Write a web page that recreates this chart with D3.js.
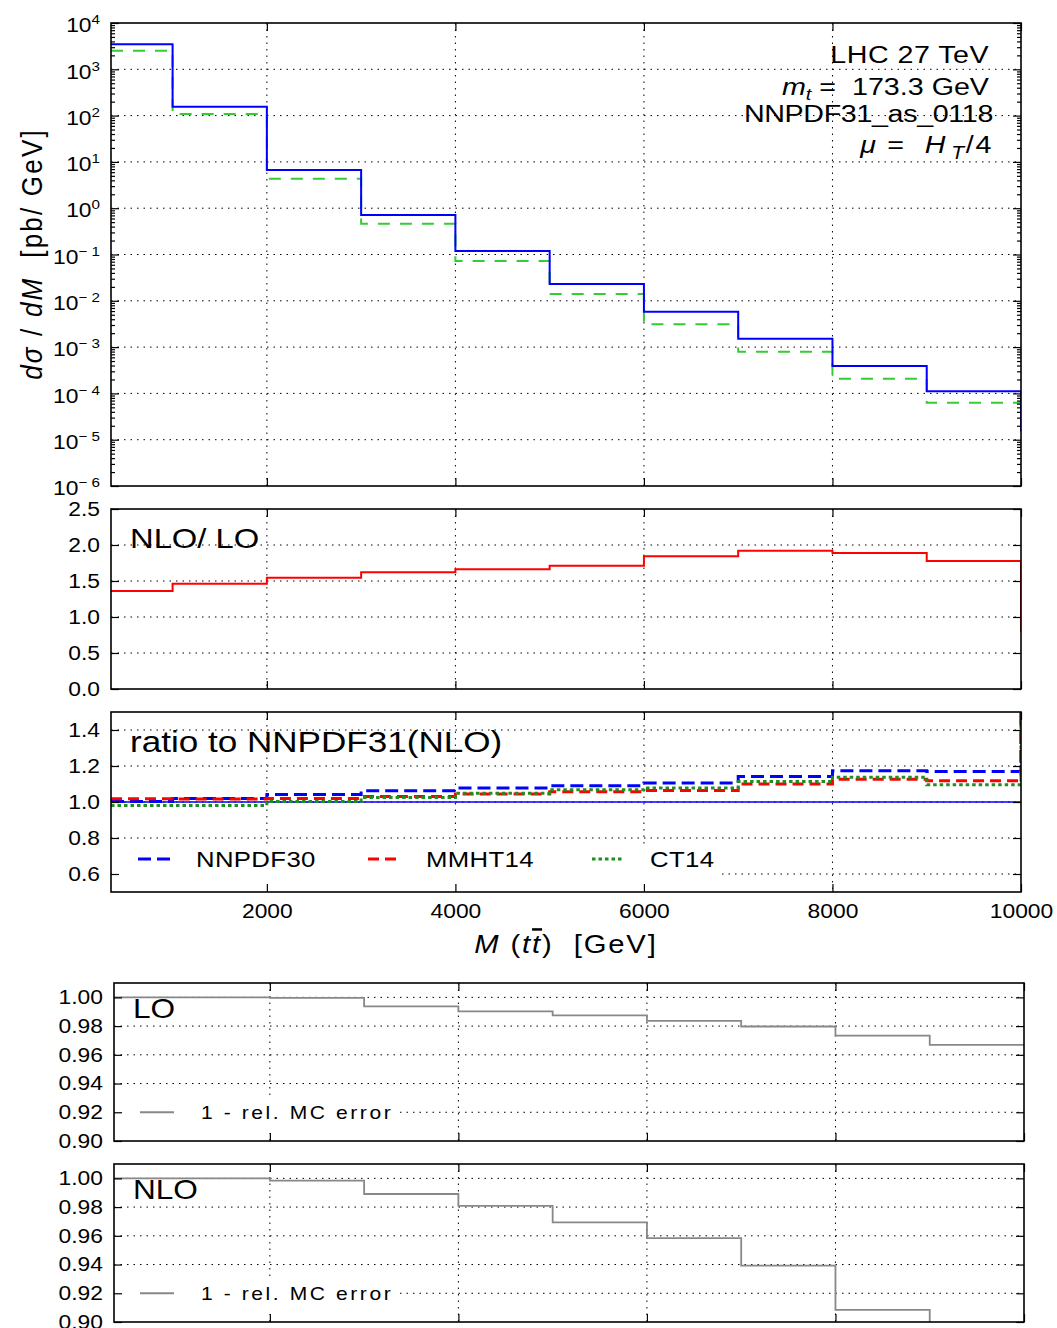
<!DOCTYPE html>
<html>
<head>
<meta charset="utf-8">
<script src="https://cdn.jsdelivr.net/npm/d3@7"></script>
<style>
html, body { margin: 0; padding: 0; background: #fff; }
svg text { font-family: "Liberation Sans", Arial, sans-serif; fill: #000; white-space: pre; }
</style>
</head>
<body>
<svg id="chart" width="1057" height="1328"></svg>
<script>
// bin edges, M(tt) [GeV]
const binEdges = [346.6, 1000, 2000, 3000, 4000, 5000, 6000, 7000, 8000, 9000, 10000];
// dsigma/dM [pb/GeV]
const xsecNLO = [3470, 155, 6.7, 0.71, 0.119, 0.0231, 0.00582, 0.00152, 0.000391, 0.000111];
const xsecLO = [2520, 108, 4.3, 0.46, 0.072, 0.0140, 0.00311, 0.000796, 0.000207, 0.000063];
const xsecNLOEnd = 1.5e-5;
// NLO / LO
const kFactor = [1.361, 1.463, 1.546, 1.62, 1.662, 1.713, 1.843, 1.921, 1.889, 1.778];
const kFactorEnd = 0.796;
// ratio to NNPDF31 (NLO)
const ratioNNPDF31 = [1, 1, 1, 1, 1, 1, 1, 1, 1, 1];
const ratioNNPDF30 = [1.003, 1.02, 1.042, 1.063, 1.078, 1.09, 1.105, 1.142, 1.173, 1.169];
const ratioMMHT14 = [1.018, 1.016, 1.02, 1.031, 1.044, 1.057, 1.064, 1.10, 1.127, 1.118];
const ratioCT14 = [0.981, 0.981, 1.003, 1.025, 1.048, 1.068, 1.078, 1.114, 1.138, 1.096];
const ratioEnd = 1.6;
// 1 - rel. MC error
const mcErrLO = [1.0, 1.0, 0.9996, 0.9937, 0.9902, 0.9874, 0.9837, 0.9797, 0.9734, 0.9669];
const mcErrNLO = [1.0, 1.0, 0.9984, 0.9891, 0.9809, 0.9693, 0.9584, 0.9393, 0.9085, 0.875];
// ticks
const xTicks = [2000, 4000, 6000, 8000, 10000];
const logTicks = [1e-6, 1e-5, 1e-4, 1e-3, 1e-2, 1e-1, 1, 10, 100, 1000, 10000];
const kTicks = [0.0, 0.5, 1.0, 1.5, 2.0, 2.5];
const ratioTicks = [0.6, 0.8, 1.0, 1.2, 1.4];
const mcTicks = [0.90, 0.92, 0.94, 0.96, 0.98, 1.00];

const svg = d3.select('#chart');
const SX = 1.17; // glyphs in the picture are a bit wide
const TICKFS = 19.5;
let clipN = 0;

function stretch(sel) {
    sel.each(function () {
        const t = d3.select(this);
        const x = +t.attr('x') || 0, y = +t.attr('y') || 0;
        t.attr('transform', `translate(${x},${y}) scale(${SX},1) translate(${-x},${-y})`);
    });
}

function stepPath(x, y, vals, end) {
    const pts = binEdges.map((e, i) => [e, i < vals.length ? vals[i] : (end !== undefined ? end : vals[vals.length - 1])]);
    return d3.line().x(d => x(d[0])).y(d => y(d[1])).curve(d3.curveStepAfter)(pts);
}

function panel(box, y, o) {
    const x = d3.scaleLinear().domain([binEdges[0], binEdges[binEdges.length - 1]]).range([box.l, box.r]);
    const g = svg.append('g');
    const id = 'clip' + (clipN++);
    svg.append('defs').append('clipPath').attr('id', id).append('rect')
        .attr('x', box.l).attr('y', box.t).attr('width', box.r - box.l).attr('height', box.b - box.t);
    // grid
    const grid = g.append('g').attr('stroke', '#000').attr('stroke-width', 1).attr('stroke-dasharray', '1.5,5');
    grid.selectAll('.gx').data(xTicks.filter(v => v < 10000)).join('line')
        .attr('x1', d => x(d)).attr('x2', d => x(d)).attr('y1', box.t).attr('y2', box.b);
    grid.selectAll('.gy').data(o.gridY).join('line')
        .attr('x1', box.l).attr('x2', box.r).attr('y1', d => y(d)).attr('y2', d => y(d));
    const lines = g.append('g').attr('clip-path', `url(#${id})`);
    const over = svg.append('g');
    // axes (ticks pointing inside)
    const ax = over.append('g');
    const left = ax.append('g').attr('transform', `translate(${box.l},0)`)
        .call(d3.axisLeft(y).tickValues(o.yTicks).tickFormat(o.fmt).tickSizeInner(-8).tickSizeOuter(0).tickPadding(11));
    ax.append('g').attr('transform', `translate(${box.r},0)`)
        .call(d3.axisRight(y).tickValues(o.yTicks).tickFormat('').tickSizeInner(-8).tickSizeOuter(0));
    if (o.minorY) {
        ax.append('g').attr('transform', `translate(${box.l},0)`)
            .call(d3.axisLeft(y).tickValues(o.minorY).tickFormat('').tickSizeInner(-4).tickSizeOuter(0));
        ax.append('g').attr('transform', `translate(${box.r},0)`)
            .call(d3.axisRight(y).tickValues(o.minorY).tickFormat('').tickSizeInner(-4).tickSizeOuter(0));
    }
    const bottom = ax.append('g').attr('transform', `translate(0,${box.b})`)
        .call(d3.axisBottom(x).tickValues(xTicks).tickFormat(o.xLabels ? d3.format('d') : '').tickSizeInner(-8).tickSizeOuter(0).tickPadding(12));
    ax.append('g').attr('transform', `translate(0,${box.t})`)
        .call(d3.axisTop(x).tickValues(xTicks).tickFormat('').tickSizeInner(-8).tickSizeOuter(0));
    ax.selectAll('.domain').remove();
    ax.selectAll('.tick line').attr('stroke', '#000').attr('stroke-width', 1.2);
    ax.selectAll('.tick text').attr('font-size', TICKFS).attr('font-family', '"Liberation Sans", Arial, sans-serif').attr('fill', '#000');
    if (o.post) o.post(left);
    stretch(left.selectAll('.tick text'));
    stretch(bottom.selectAll('.tick text'));
    // frame
    over.append('rect').attr('x', box.l).attr('y', box.t).attr('width', box.r - box.l).attr('height', box.b - box.t)
        .attr('fill', 'none').attr('stroke', '#000').attr('stroke-width', 1.6);
    return { x, y, g, lines, over, box };
}

function addText(parent, x, y, size, parts, anchor, ls) {
    const t = parent.append('text').attr('x', x).attr('y', y).attr('font-size', size)
        .attr('text-anchor', anchor || 'start');
    if (ls) t.attr('letter-spacing', ls);
    parts.forEach(p => {
        const s = t.append('tspan').text(p.t);
        if (p.i) s.attr('font-style', 'italic');
        if (p.dy) s.attr('dy', p.dy);
        if (p.fs) s.attr('font-size', p.fs);
        if (p.over) s.attr('text-decoration', 'overline');
    });
    stretch(t);
    return t;
}

// ---------- top panel: dsigma/dM ----------
const boxTop = { l: 111, r: 1021, t: 23, b: 486 };
const yTop = d3.scaleLog().domain([1e-6, 1e4]).range([boxTop.b, boxTop.t]);
const minorLog = [];
logTicks.slice(0, -1).forEach(d => { for (let k = 2; k <= 9; k++) minorLog.push(d * k); });
const pTop = panel(boxTop, yTop, {
    yTicks: logTicks, gridY: logTicks.slice(1, -1), minorY: minorLog, fmt: () => '',
    post: left => left.selectAll('.tick text').each(function (d) {
        const e = Math.round(Math.log10(d));
        const t = d3.select(this).text(null).attr('dy', '0.45em');
        t.append('tspan').text('10');
        t.append('tspan').attr('dy', '-0.62em').attr('font-size', 13).text(e < 0 ? '\u2212 ' + (-e) : String(e));
    })
});
pTop.lines.append('path').attr('d', stepPath(pTop.x, yTop, xsecLO))
    .attr('fill', 'none').attr('stroke', '#33cc33').attr('stroke-width', 2).attr('stroke-dasharray', '12,10');
pTop.lines.append('path').attr('d', stepPath(pTop.x, yTop, xsecNLO, xsecNLOEnd))
    .attr('fill', 'none').attr('stroke', '#0000ff').attr('stroke-width', 2);

const ann = svg.append('g');
addText(ann, 989, 63, 24.5, [{ t: 'LHC 27 TeV' }], 'end', 0.4);
addText(ann, 989, 95, 24.5, [{ t: 'm', i: true }, { t: 't', i: true, fs: 17, dy: 5 }, { t: ' =  173.3 GeV', dy: -5 }], 'end');
addText(ann, 993, 122.5, 24.5, [{ t: 'NNPDF31_as_0118' }], 'end', -0.3);
addText(ann, 993, 153, 24.5, [{ t: '\u03bc', i: true }, { t: ' =  ' }, { t: 'H', i: true }, { t: ' ', fs: 8 }, { t: 'T', i: true, fs: 18, dy: 6 }, { t: '/4', dy: -6 }], 'end', 1.4);

// y label
const yl = svg.append('text').attr('font-size', 26).attr('text-anchor', 'middle').attr('letter-spacing', 2.2)
    .attr('transform', `translate(42,254) scale(${SX},1) rotate(-90)`);
[{ t: 'd\u03c3', i: true }, { t: ' / ' }, { t: 'dM', i: true }, { t: '  [pb/ GeV]' }].forEach(p => {
    const s = yl.append('tspan').text(p.t); if (p.i) s.attr('font-style', 'italic');
});

// ---------- NLO/LO ----------
const boxK = { l: 111, r: 1021, t: 509, b: 689 };
const yK = d3.scaleLinear().domain([0, 2.5]).range([boxK.b, boxK.t]);
const pK = panel(boxK, yK, { yTicks: kTicks, gridY: [0.5, 1.0, 1.5, 2.0], fmt: d3.format('.1f') });
pK.lines.append('path').attr('d', stepPath(pK.x, yK, kFactor, kFactorEnd))
    .attr('fill', 'none').attr('stroke', '#ff0000').attr('stroke-width', 2);
addText(pK.over, 130, 548, 28, [{ t: 'NLO/ LO' }]);

// ---------- ratio to NNPDF31 ----------
const boxR = { l: 111, r: 1021, t: 712, b: 892 };
const yR = d3.scaleLinear().domain([0.5, 1.5]).range([boxR.b, boxR.t]);
const pR = panel(boxR, yR, { yTicks: ratioTicks, gridY: ratioTicks, fmt: d3.format('.1f'), xLabels: true });
const ratioSeries = [
    { name: 'NNPDF30', vals: ratioNNPDF30, color: '#0000ff', dash: '13,6', w: 3 },
    { name: 'MMHT14', vals: ratioMMHT14, color: '#ff0000', dash: '11,6', w: 3 },
    { name: 'CT14', vals: ratioCT14, color: '#1f8f1f', dash: '3.5,3', w: 3 }
];
pR.lines.append('path').attr('d', stepPath(pR.x, yR, ratioNNPDF31))
    .attr('fill', 'none').attr('stroke', '#0000ff').attr('stroke-width', 1.5);
ratioSeries.forEach(s => {
    pR.lines.append('path').attr('d', stepPath(pR.x, yR, s.vals, ratioEnd))
        .attr('fill', 'none').attr('stroke', s.color).attr('stroke-width', s.w).attr('stroke-dasharray', s.dash);
});
addText(pR.g, 130, 752, 30, [{ t: 'ratio to NNPDF31(NLO)' }]);
// legend
const legR = pR.g.append('g');
legR.append('rect').attr('x', boxR.l + 1).attr('y', 844).attr('width', 610).attr('height', 46).attr('fill', '#fff');
const legX = [138, 368, 592];
ratioSeries.forEach((s, i) => {
    legR.append('line').attr('x1', legX[i]).attr('x2', legX[i] + 32).attr('y1', 859).attr('y2', 859)
        .attr('stroke', s.color).attr('stroke-width', s.w).attr('stroke-dasharray', s.dash);
    addText(legR, legX[i] + 58, 867, 22, [{ t: s.name }], 'start', 0.3);
});
// x label
const xl = svg.append('text').attr('x', 566).attr('y', 953).attr('font-size', 25).attr('text-anchor', 'middle').attr('letter-spacing', 1.6);
[{ t: 'M', i: true }, { t: ' (' }, { t: 't', i: true }, { t: 't', i: true, over: true }, { t: ')  [GeV]' }].forEach(p => {
    const s = xl.append('tspan').text(p.t);
    if (p.i) s.attr('font-style', 'italic');
    if (p.over) s.attr('text-decoration', 'overline');
});
stretch(xl);

// ---------- MC error panels ----------
function mcPanel(box, vals, label) {
    const y = d3.scaleLinear().domain([0.90, 1.01]).range([box.b, box.t]);
    const p = panel(box, y, { yTicks: mcTicks, gridY: mcTicks.slice(1), fmt: d3.format('.2f') });
    p.lines.append('path').attr('d', stepPath(p.x, y, vals))
        .attr('fill', 'none').attr('stroke', '#888').attr('stroke-width', 1.8);
    addText(p.g, 133, y(1.0) + 20.5, 27, [{ t: label }]);
    const leg = p.g.append('g');
    const ly = y(0.92);
    leg.append('rect').attr('x', box.l + 1).attr('y', ly - 17).attr('width', 284).attr('height', 38).attr('fill', '#fff');
    leg.append('line').attr('x1', 140).attr('x2', 174).attr('y1', ly).attr('y2', ly).attr('stroke', '#888').attr('stroke-width', 1.8);
    addText(leg, 201, ly + 7, 18, [{ t: '1 - rel. MC error' }], 'start', 2.2);
}
mcPanel({ l: 114, r: 1024, t: 983, b: 1141 }, mcErrLO, 'LO');
mcPanel({ l: 114, r: 1024, t: 1164, b: 1322 }, mcErrNLO, 'NLO');
</script>
</body>
</html>
